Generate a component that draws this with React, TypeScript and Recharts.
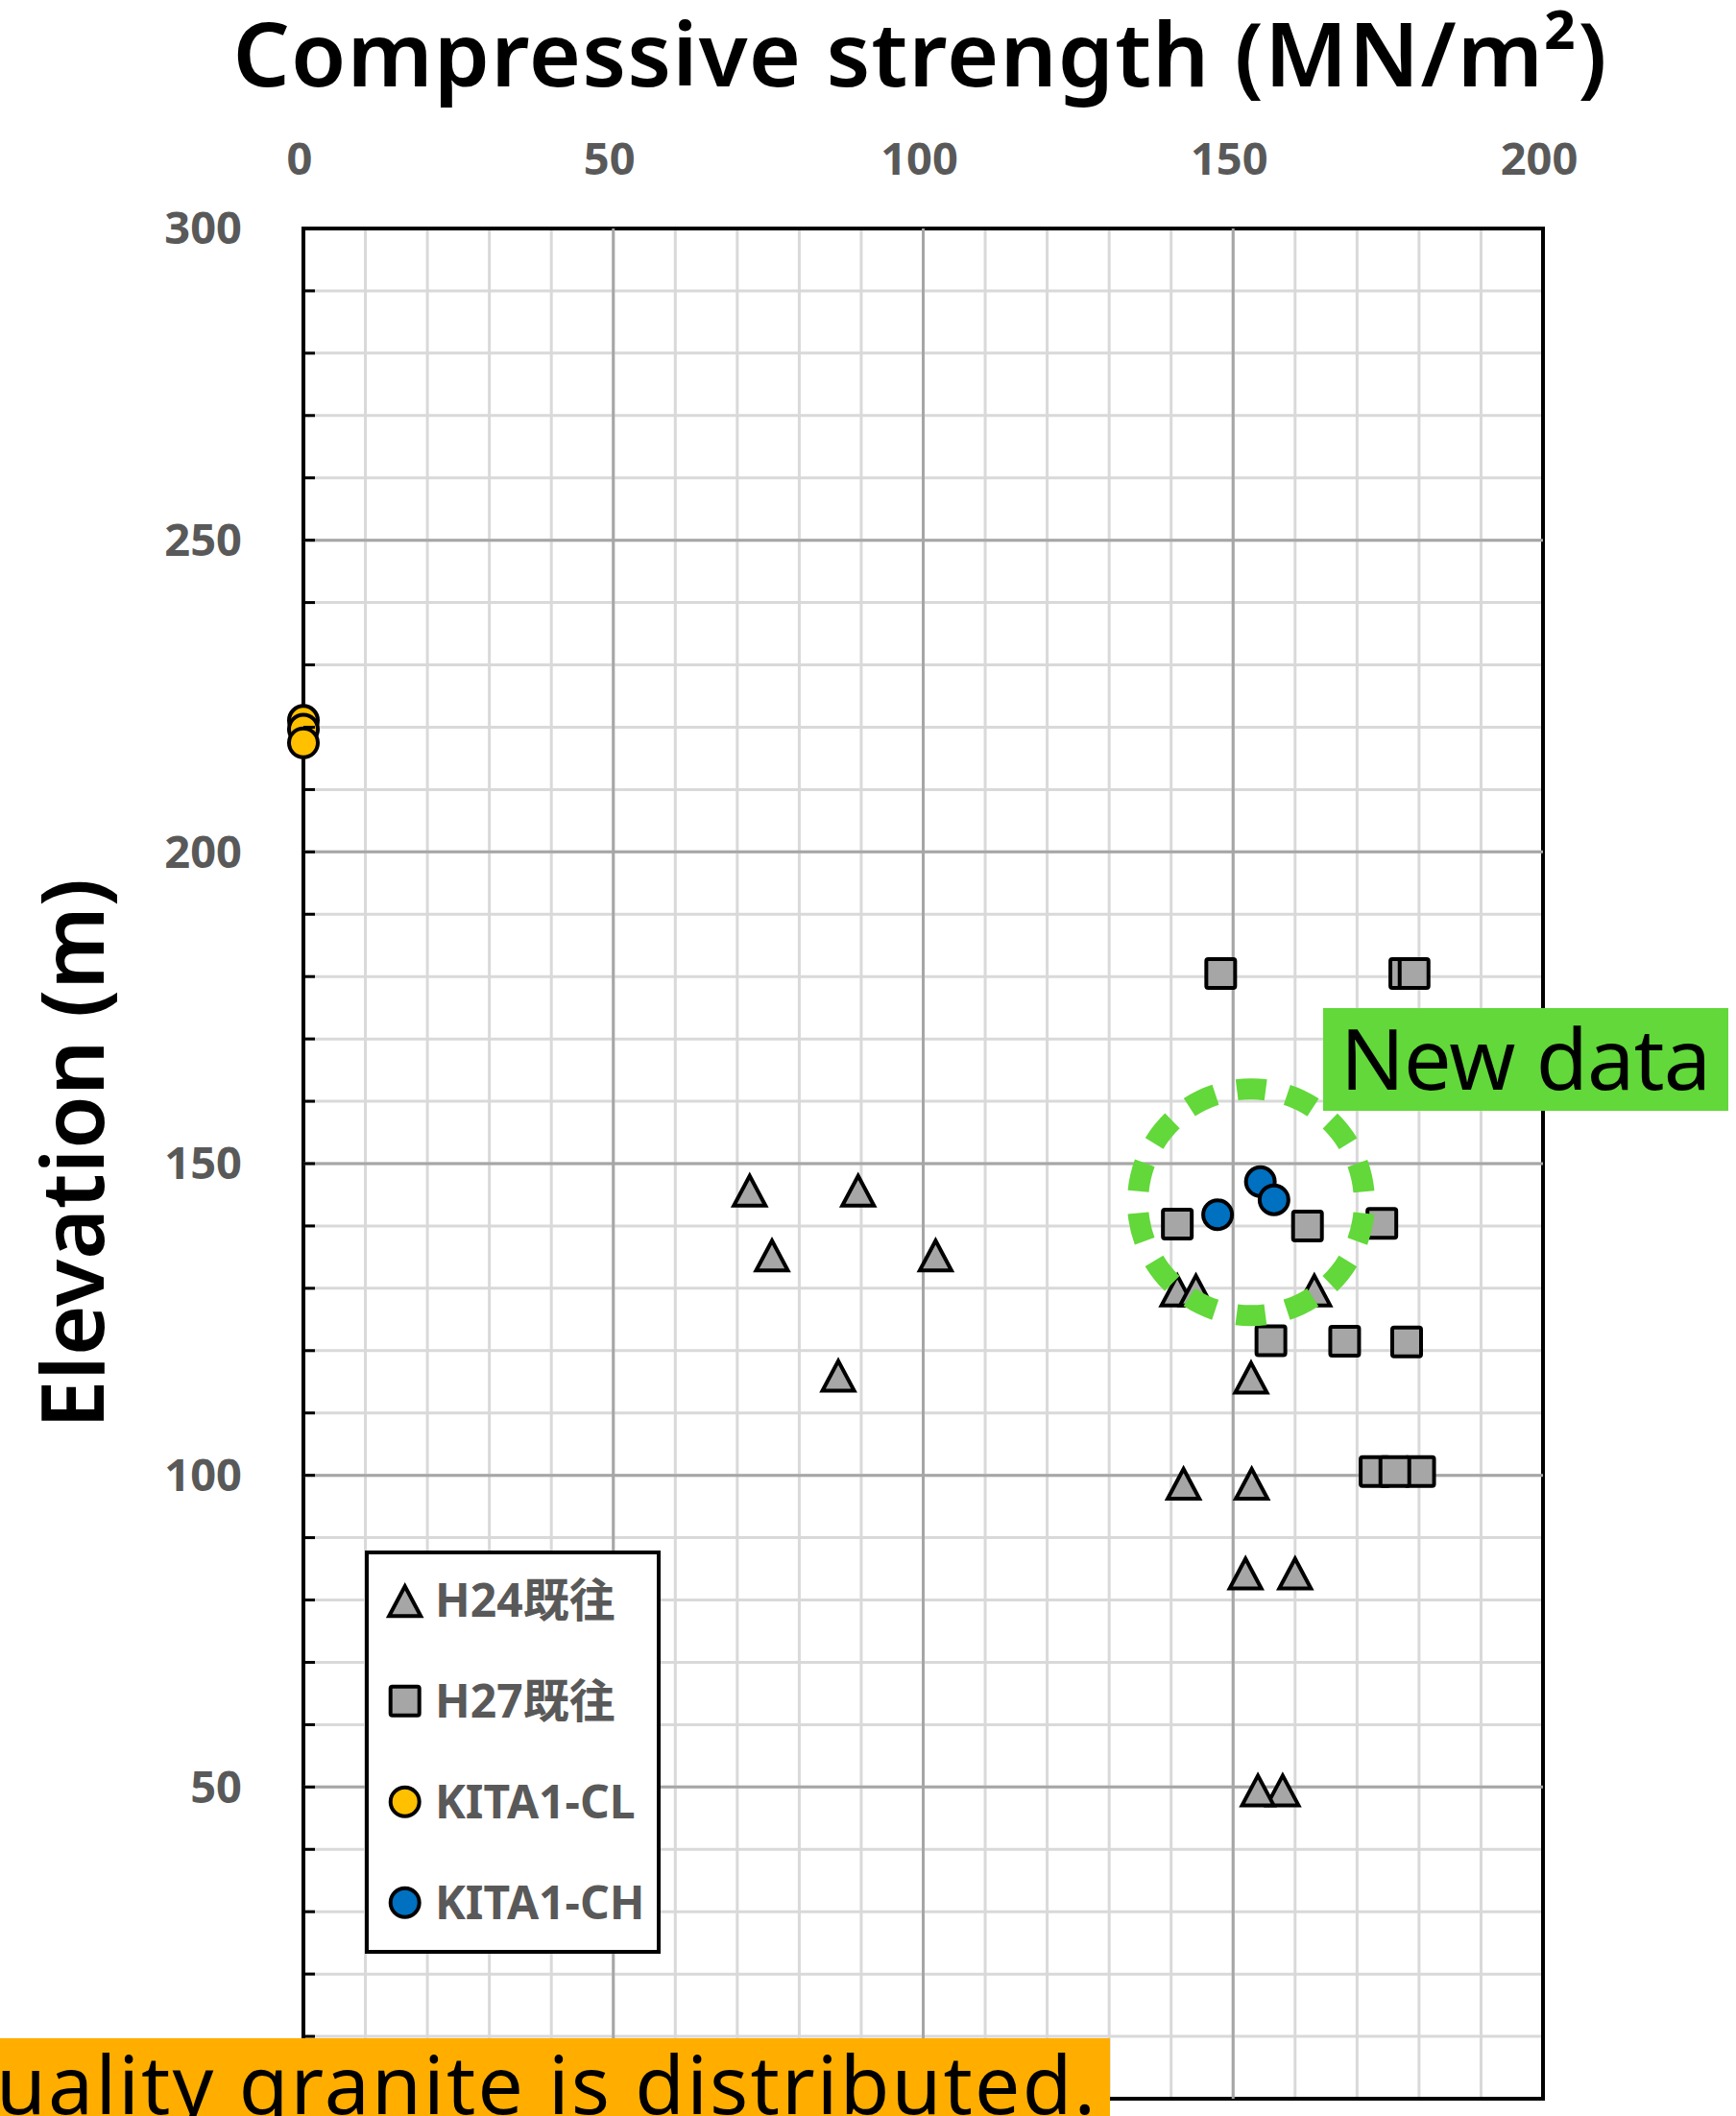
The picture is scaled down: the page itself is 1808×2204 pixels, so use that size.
import {
  ScatterChart, Scatter, XAxis, YAxis, CartesianGrid,
  ReferenceLine, ReferenceArea, ReferenceDot, Legend,
} from "recharts";

// H24既往 (triangles)
const H24_X = [72.0, 89.5, 75.6, 102.0, 86.3, 141.0, 144.0, 163.1, 152.9, 142.0, 153.0, 152.0, 160.0, 158.0, 154.0];
const H24_Y = [145.8, 145.8, 135.4, 135.4, 116.1, 129.8, 129.8, 129.8, 115.8, 98.8, 98.8, 84.4, 84.4, 49.6, 49.6];
// H27既往 (squares)
const H27_X = [148.0, 177.7, 179.2, 141.0, 162.0, 174.0, 156.1, 168.0, 178.0, 172.9, 180.1, 176.1];
const H27_Y = [180.5, 180.5, 180.5, 140.3, 140.0, 140.4, 121.6, 121.5, 121.4, 100.6, 100.6, 100.6];
// KITA1-CL (yellow), KITA1-CH (blue)
const CL_X = [0, 0, 0];
const CL_Y = [221.1, 219.7, 217.5];
const CH_X = [147.5, 154.4, 156.6];
const CH_Y = [141.8, 147.1, 144.2];

const X_TICKS = [0, 10, 20, 30, 40, 50, 60, 70, 80, 90, 100, 110, 120, 130, 140, 150, 160, 170, 180, 190, 200];
const Y_TICKS = [0, 10, 20, 30, 40, 50, 60, 70, 80, 90, 100, 110, 120, 130, 140, 150, 160, 170, 180, 190, 200,
  210, 220, 230, 240, 250, 260, 270, 280, 290, 300];
const X_MAJOR = [50, 100, 150];
const Y_MAJOR = [50, 100, 150, 200, 250];

// circle drawn around the new KITA1-CH points
const NEW_DATA_AT = { x: 152.9, y: 143.8 };

const GRAY = "#A6A6A6";
const GREEN = "#62D83A";
const TICK_GAP = 64;
const RING_R = 118;
const RING_PERIOD = (2 * Math.PI * RING_R) / 14;

const toPoints = (xs: number[], ys: number[]) => xs.map((x, i) => ({ x, y: ys[i] }));

// eslint-disable-next-line @typescript-eslint/no-explicit-any
const Triangle = ({ cx, cy, fill }: any) => (
  <path
    d={`M${cx},${cy - 14.5} L${cx + 16.5},${cy + 16.5} L${cx - 16.5},${cy + 16.5} Z`}
    fill={fill} stroke="#000" strokeWidth={4} strokeLinejoin="miter"
  />
);
// eslint-disable-next-line @typescript-eslint/no-explicit-any
const Square = ({ cx, cy, fill }: any) => (
  <rect x={cx - 15} y={cy - 15} width={30} height={30} rx={2} fill={fill} stroke="#000" strokeWidth={4} />
);
// eslint-disable-next-line @typescript-eslint/no-explicit-any
const Circle = ({ cx, cy, fill }: any) => (
  <circle cx={cx} cy={cy} r={15} fill={fill} stroke="#000" strokeWidth={4} />
);

const SERIES = [
  { name: "H24既往", data: toPoints(H24_X, H24_Y), fill: GRAY, Shape: Triangle },
  { name: "H27既往", data: toPoints(H27_X, H27_Y), fill: GRAY, Shape: Square },
  { name: "KITA1-CL", data: toPoints(CL_X, CL_Y), fill: "#FFC000", Shape: Circle },
  { name: "KITA1-CH", data: toPoints(CH_X, CH_Y), fill: "#0070C0", Shape: Circle },
];

// eslint-disable-next-line @typescript-eslint/no-explicit-any
const YTick = ({ x, y, payload }: any) => {
  const v = payload.value as number;
  return (
    <g>
      <line x1={x + TICK_GAP} x2={x + TICK_GAP + 12} y1={y} y2={y} stroke="#000" strokeWidth={3} />
      {v % 50 === 0 && v > 0 && (
        <text x={x} y={y} dy="0.35em" textAnchor="end" fill="#595959"
          fontSize={47} fontWeight={700} fontFamily="'Noto Sans', sans-serif">
          {v}
        </text>
      )}
    </g>
  );
};

const LegendBox = () => (
  <div style={{ boxSizing: "border-box", width: 308, height: 420, border: "4px solid #000", background: "#fff" }}>
    <svg width={300} height={412}>
      {SERIES.map((s, i) => {
        const cy = 47.7 + i * 105;
        return (
          <g key={s.name}>
            <s.Shape cx={37.7} cy={cy} fill={s.fill} />
            <text x={69} y={cy + 17} fill="#595959" fontSize={48} fontWeight={700}
              fontFamily="'Noto Sans', 'Noto Sans CJK JP', sans-serif">
              {s.name}
            </text>
          </g>
        );
      })}
    </svg>
  </div>
);

export default function App() {
  return (
    <div style={{ position: "absolute", left: 0, top: 0, width: 1808, height: 2204, overflow: "hidden", background: "#fff" }}>
      <ScatterChart width={1808} height={2204} margin={{ top: 158, right: 201, bottom: 18, left: 216 }}>
        <CartesianGrid stroke="#D9D9D9" strokeWidth={3} />
        {X_MAJOR.map(v => (
          <ReferenceLine key={"x" + v} x={v} stroke={GRAY} strokeWidth={3} />
        ))}
        {Y_MAJOR.map(v => (
          <ReferenceLine key={"y" + v} y={v} stroke={GRAY} strokeWidth={3} />
        ))}
        <ReferenceArea x1={0} x2={200} y1={0} y2={300} fill="none" fillOpacity={0} stroke="#000" strokeWidth={4} />
        <XAxis
          type="number" dataKey="x" orientation="top" height={80}
          domain={[0, 200]} ticks={X_TICKS} interval={0}
          axisLine={false} tickLine={false} tickSize={0} tickMargin={56}
          tickFormatter={v => (v % 50 === 0 ? String(v) : "")}
          tick={{ fill: "#595959", fontSize: 47, fontWeight: 700, fontFamily: "'Noto Sans', sans-serif", dx: -4 }}
        />
        <YAxis
          type="number" dataKey="y" width={100}
          domain={[0, 300]} ticks={Y_TICKS} interval={0}
          axisLine={false} tickLine={false} tickSize={0} tickMargin={TICK_GAP}
          tick={<YTick />}
        />
        {SERIES.map(s => (
          <Scatter key={s.name} name={s.name} data={s.data} fill={s.fill}
            shape={<s.Shape fill={s.fill} />} isAnimationActive={false} />
        ))}
        <ReferenceDot
          x={NEW_DATA_AT.x} y={NEW_DATA_AT.y} r={RING_R}
          fill="none" stroke={GREEN} strokeWidth={22}
          strokeDasharray={`${RING_PERIOD * 0.57} ${RING_PERIOD * 0.43}`}
          strokeDashoffset={RING_PERIOD * 0.785}
          zIndex={1500}
        />
        <Legend
          layout="horizontal" verticalAlign="middle" align="center"
          content={<LegendBox />}
          wrapperStyle={{ left: 380, top: 1615, width: 308, height: 420 }}
        />
      </ScatterChart>

      <svg width={1808} height={2204} style={{ position: "absolute", left: 0, top: 0, pointerEvents: "none" }}>
        <text x={958} y={90} textAnchor="middle" textLength={1431} fontSize={93} fontWeight={600}
          fontFamily="'Noto Sans', sans-serif" fill="#000">
          Compressive strength (MN/m²)
        </text>
        <text transform="translate(108,1488) rotate(-90)" textLength={573} fontSize={90} fontWeight={600}
          fontFamily="'Noto Sans', sans-serif" fill="#000">
          Elevation (m)
        </text>
        <rect x={1378} y={1050} width={422} height={107} fill={GREEN} />
        <text x={1396} y={1135} textLength={386} fontSize={88} fontWeight={400}
          fontFamily="'Noto Sans', sans-serif" fill="#000">
          New data
        </text>
        <rect x={0} y={2123} width={1156} height={81} fill="#FFAE00" />
        <text x={-4} y={2202} textLength={1145} fontSize={84} fontWeight={400}
          fontFamily="'Noto Sans', sans-serif" fill="#000">
          uality granite is distributed.
        </text>
      </svg>
    </div>
  );
}
